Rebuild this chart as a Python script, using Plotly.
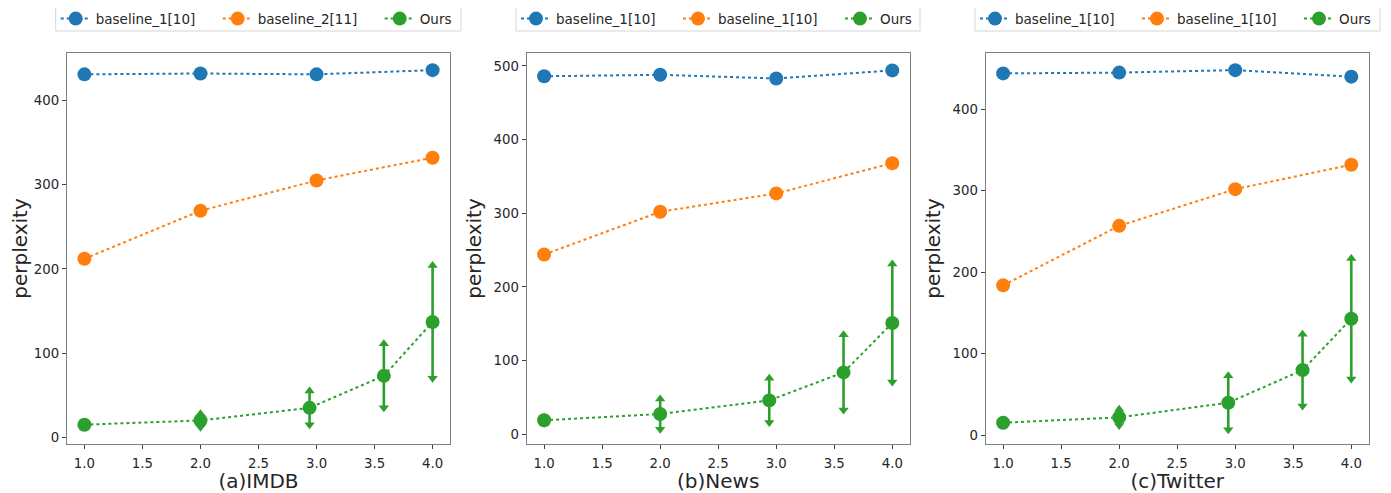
import plotly.graph_objects as go

# ---- data ----
x_base = [1.0, 2.0, 3.0, 4.0]
x_ours = [1.0, 2.0, 2.94, 3.58, 4.0]

titles = ["(a)IMDB", "(b)News", "(c)Twitter"]
legend_names = [
    ["baseline_1[10]", "baseline_2[11]", "Ours"],
    ["baseline_1[10]", "baseline_1[10]", "Ours"],
    ["baseline_1[10]", "baseline_1[10]", "Ours"],
]

imdb_b1 = [431, 432, 431, 436]
imdb_b2 = [212, 269, 305, 332]
imdb_ours = [15, 20, 35, 73, 137]
imdb_err = [2, 8, 20, 38, 67]

news_b1 = [486, 488, 483, 494]
news_b2 = [244, 302, 327, 368]
news_ours = [19, 27.5, 46, 84, 151]
news_err = [4, 20.5, 30, 51, 80]

tw_b1 = [444, 445, 448, 440]
tw_b2 = [184, 257, 302, 332]
tw_ours = [15.5, 22, 40, 80, 143]
tw_err = [2, 10, 33, 44, 74]

y_ranges = [[-8.3, 456.7], [-13.6, 518], [-11, 469.4]]
y_ticks = [[0, 100, 200, 300, 400], [0, 100, 200, 300, 400, 500], [0, 100, 200, 300, 400]]
x_ticks = [1.0, 1.5, 2.0, 2.5, 3.0, 3.5, 4.0]

panels = [
    (imdb_b1, imdb_b2, imdb_ours, imdb_err),
    (news_b1, news_b2, news_ours, news_err),
    (tw_b1, tw_b2, tw_ours, tw_err),
]

BLUE, ORANGE, GREEN = "#1f77b4", "#ff7f0e", "#2ca02c"
PAGE_W, PAGE_H = 1391, 493
OFF = 8  # default body margin of the html page
W, H = PAGE_W - OFF, PAGE_H - OFF


def px_x(p):
    return (p - OFF) / W


def px_y(p):
    return 1 - (p - OFF) / H


x_domains = [[px_x(67), px_x(450)], [px_x(526.7), px_x(909.7)], [px_x(985.7), px_x(1368.7)]]
y_domain = [px_y(444.3), px_y(52.7)]
legend_boxes = [(55.7, 461), (516, 920), (975, 1380)]
LEG_TOP, LEG_BOT = 7.3, 31
FONT = "DejaVu Sans"

fig = go.Figure()

for i, (b1, b2, ours, err) in enumerate(panels):
    xa = "x" if i == 0 else f"x{i+1}"
    ya = "y" if i == 0 else f"y{i+1}"
    lg = "legend" if i == 0 else f"legend{i+1}"
    names = legend_names[i]
    fig.add_trace(go.Scatter(
        x=x_base, y=b1, mode="lines+markers", name=names[0],
        line=dict(color=BLUE, width=2, dash="dot"),
        marker=dict(color=BLUE, size=14), xaxis=xa, yaxis=ya, legend=lg))
    fig.add_trace(go.Scatter(
        x=x_base, y=b2, mode="lines+markers", name=names[1],
        line=dict(color=ORANGE, width=2, dash="dot"),
        marker=dict(color=ORANGE, size=14), xaxis=xa, yaxis=ya, legend=lg))
    fig.add_trace(go.Scatter(
        x=x_ours, y=ours, mode="lines+markers", name=names[2],
        line=dict(color=GREEN, width=2, dash="dot"),
        marker=dict(color=GREEN, size=14),
        error_y=dict(type="data", array=err, visible=True, color=GREEN,
                     thickness=2.6, width=0),
        xaxis=xa, yaxis=ya, legend=lg))
    up = [v + e for v, e in zip(ours, err)]
    dn = [v - e for v, e in zip(ours, err)]
    fig.add_trace(go.Scatter(
        x=x_ours, y=up, mode="markers", showlegend=False, hoverinfo="skip",
        marker=dict(symbol="triangle-up", color=GREEN, size=9),
        xaxis=xa, yaxis=ya))
    fig.add_trace(go.Scatter(
        x=x_ours, y=dn, mode="markers", showlegend=False, hoverinfo="skip",
        marker=dict(symbol="triangle-down", color=GREEN, size=9),
        xaxis=xa, yaxis=ya))

layout = dict(
    width=W, height=H,
    margin=dict(l=0, r=0, t=0, b=0, autoexpand=False),
    paper_bgcolor="white", plot_bgcolor="white",
    font=dict(family=FONT, color="#262626"),
)

shapes = []
for i in range(3):
    xk = "xaxis" if i == 0 else f"xaxis{i+1}"
    yk = "yaxis" if i == 0 else f"yaxis{i+1}"
    lk = "legend" if i == 0 else f"legend{i+1}"
    layout[xk] = dict(
        domain=x_domains[i], range=[0.85, 4.15], anchor="y" if i == 0 else f"y{i+1}",
        tickvals=x_ticks, ticktext=[f"{t:.1f}" for t in x_ticks],
        showgrid=False, zeroline=False, showline=True, mirror=True,
        linecolor="#808080", linewidth=1.3, ticks="outside", ticklen=4,
        tickcolor="#404040", tickwidth=1, tickfont=dict(size=13.3, family=FONT),
        ticklabelstandoff=3,
        title=dict(text=titles[i], font=dict(size=20, family=FONT), standoff=0),
        automargin=False)
    layout[yk] = dict(
        domain=y_domain, range=y_ranges[i], anchor="x" if i == 0 else f"x{i+1}",
        tickvals=y_ticks[i], showgrid=False, zeroline=False, showline=True, mirror=True,
        linecolor="#808080", linewidth=1.3, ticks="outside", ticklen=4,
        tickcolor="#404040", tickwidth=1, tickfont=dict(size=13.3, family=FONT),
        title=dict(text="perplexity", font=dict(size=20, family=FONT), standoff=6),
        automargin=False)
    lx0, lx1 = legend_boxes[i]
    layout[lk] = dict(
        x=px_x(lx0), y=px_y(3.3), xanchor="left", yanchor="top",
        orientation="h", borderwidth=0, bgcolor="rgba(0,0,0,0)",
        font=dict(size=13.5, family=FONT), itemwidth=30,
        entrywidth=117, entrywidthmode="pixels")
    shapes.append(dict(
        type="rect", xref="paper", yref="paper", layer="below",
        x0=px_x(lx0), x1=px_x(lx1), y0=px_y(LEG_BOT), y1=px_y(LEG_TOP),
        line=dict(color="#d6d6d6", width=1), fillcolor="rgba(0,0,0,0)"))

layout["shapes"] = shapes
fig.update_layout(**layout)
fig.write_html("out.html")
